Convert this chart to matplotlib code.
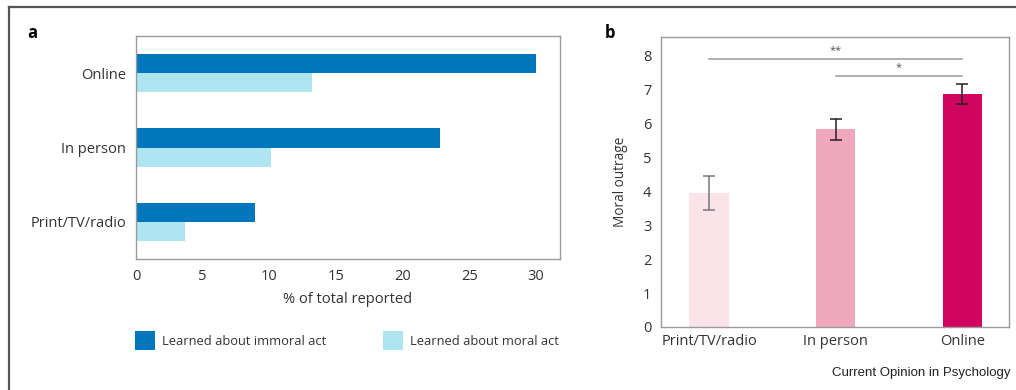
import matplotlib

matplotlib.use("Agg")
import matplotlib.pyplot as plt
import numpy as np
from matplotlib.lines import Line2D

# panel a: share of reports by source
sources_a = ["Print/TV/radio", "In person", "Online"]
immoral_pct = [8.9, 22.8, 30.0]
moral_pct = [3.7, 10.1, 13.2]

# panel b: mean moral outrage by source, with error bars
sources_b = ["Print/TV/radio", "In person", "Online"]
outrage_mean = [3.95, 5.83, 6.87]
outrage_err = [0.50, 0.31, 0.29]

W, H = 1016, 390
plt.rcParams["font.family"] = ["Open Sans", "DejaVu Sans"]
plt.rcParams["font.size"] = 10

fig = plt.figure(figsize=(W / 100, H / 100), dpi=100)


def px_axes(left, top, right, bottom):
    return fig.add_axes([left / W, 1 - bottom / H, (right - left) / W, (bottom - top) / H])


def style_box(ax):
    for sp in ax.spines.values():
        sp.set_color("#9a9a9a")
        sp.set_linewidth(1.0)
    ax.tick_params(length=0, colors="#333333", labelsize=10.5)


# ---- panel a ----
ax_a = px_axes(136, 36, 560, 259)
y = np.arange(len(sources_a))
h = 0.26
dark_blue, light_blue = "#0077BD", "#AEE5F1"
b1 = ax_a.barh(y + h / 2, immoral_pct, height=h, color=dark_blue, label="Learned about immoral act")
b2 = ax_a.barh(y - h / 2, moral_pct, height=h, color=light_blue, label="Learned about moral act")
ax_a.set_yticks(y)
ax_a.set_yticklabels(sources_a)
ax_a.set_ylim(-0.5, 2.5)
ax_a.set_xlim(0, 31.8)
ax_a.set_xticks([0, 5, 10, 15, 20, 25, 30])
ax_a.set_xlabel("% of total reported", color="#333333", fontsize=10.5, labelpad=6)
style_box(ax_a)
ax_a.tick_params(axis="y", pad=7)
ax_a.tick_params(axis="x", pad=7)

fig.legend(
    handles=[b1, b2],
    loc="upper left",
    bbox_to_anchor=(135 / W, 1 - 331 / H),
    ncol=2,
    frameon=False,
    fontsize=9.3,
    handlelength=1.55,
    handleheight=1.9,
    handletextpad=0.55,
    columnspacing=4.4,
    borderpad=0,
    borderaxespad=0,
    labelcolor="#333333",
)

# ---- panel b ----
ax_b = px_axes(661, 37, 1009, 327)
x = np.arange(len(sources_b))
pinks = ["#FBE3EA", "#EFA8BE", "#D0055F"]
err_colors = ["#777777", "#222222", "#222222"]
ax_b.bar(x, outrage_mean, width=0.31, color=pinks)
for xi, m, e, c in zip(x, outrage_mean, outrage_err, err_colors):
    ax_b.errorbar(xi, m, yerr=e, fmt="none", ecolor=c, elinewidth=1.1, capsize=4, capthick=1.1)
ax_b.set_xticks(x)
ax_b.set_xticklabels(sources_b)
ax_b.set_xlim(-0.38, 2.37)
ax_b.set_ylim(0, 8.55)
ax_b.set_yticks(range(0, 9))
ax_b.set_ylabel("Moral outrage", color="#333333", fontsize=9.8)
ax_b.yaxis.set_label_coords(-0.095, 0.5)
style_box(ax_b)
ax_b.tick_params(axis="y", pad=7)
ax_b.tick_params(axis="x", pad=5)

# significance brackets
ax_b.plot([0, 2], [7.9, 7.9], color="#9a9a9a", lw=1.1)
ax_b.text(1, 8.0, "**", ha="center", va="bottom", fontsize=8, color="#555555")
ax_b.plot([1, 2], [7.41, 7.41], color="#9a9a9a", lw=1.1)
ax_b.text(1.5, 7.5, "*", ha="center", va="bottom", fontsize=8, color="#555555")

# panel letters, source note and outer frame
fig.text(27 / W, 1 - 33 / H, "a", fontsize=12, fontweight="bold", va="center")
fig.text(605 / W, 1 - 33 / H, "b", fontsize=12, fontweight="bold", va="center")
fig.text(1010 / W, 1 - 373 / H, "Current Opinion in Psychology", ha="right", va="center",
         fontsize=9.5, family="Liberation Sans", color="#222222")
fig.add_artist(Line2D([9 / W, 1], [1 - 7 / H, 1 - 7 / H], color="#555555", lw=1.6))
fig.add_artist(Line2D([9 / W, 9 / W], [0, 1 - 7 / H], color="#555555", lw=1.6))

fig.savefig("out.png", dpi=100)
